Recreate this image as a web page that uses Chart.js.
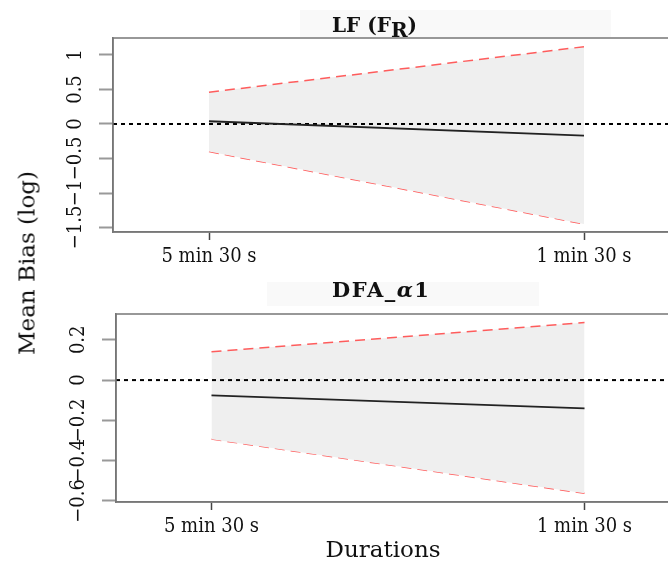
<!DOCTYPE html>
<html lang="en">
<head>
    <meta charset="UTF-8">
    <title>Mean Bias by Duration</title>
    <script src="https://cdn.jsdelivr.net/npm/chart.js"></script>
    <style>
        body {
            margin: 0;
            background: white;
            overflow: hidden;
        }
        .page {
            position: relative;
            width: 668px;
            height: 564px;
            overflow: hidden;
            font-family: "DejaVu Serif", serif;
            color: #111;
        }
        canvas {
            position: absolute;
            left: 0;
        }
        #topChart { top: 0; }
        #bottomChart { top: 276px; }
        .title {
            position: absolute;
            left: 332px;
            font-size: 20px;
            line-height: 20px;
            font-weight: bold;
            white-space: nowrap;
        }
        .title sub {
            font-size: 20px;
            vertical-align: -5px;
            line-height: 0;
        }
        .bg {
            position: absolute;
            background: #f9f9f9;
        }
        .axisTitle {
            position: absolute;
            font-size: 23px;
            line-height: 23px;
            white-space: nowrap;
        }
    </style>
</head>
<body>
    <div class="page">
        <div class="bg" style="left:300px; top:10px; width:311px; height:27px;"></div>
        <div class="bg" style="left:267px; top:282px; width:272px; height:24px;"></div>
        <canvas id="topChart" width="752" height="276"></canvas>
        <canvas id="bottomChart" width="752" height="288"></canvas>
        <div class="title" style="top:15px;">LF (F<sub>R</sub>)</div>
        <div class="title" style="top:280px; font-size:21px; letter-spacing:1.5px;">DFA_<i>α</i>1</div>
        <div class="axisTitle" style="left:27px; top:263px; transform: translate(-50%, -50%) rotate(-90deg);">Mean Bias (log)</div>
        <div class="axisTitle" style="left:383px; top:538px; transform: translateX(-50%);">Durations</div>
    </div>

    <script>
        // categories on the x axis
        const durations = ['5 min 30 s', '1 min 30 s'];
        const xPos = [1, 2];
        const xMin = 0.744;
        const xMax = 2.256;

        // LF (F_R) panel
        const lfUpper = [0.46, 1.12];
        const lfMean = [0.04, -0.17];
        const lfLower = [-0.40, -1.45];
        const lfTicks = [-1.5, -1, -0.5, 0, 0.5, 1];
        const lfRange = [-1.565, 1.246];

        // DFA_alpha1 panel
        const dfaUpper = [0.141, 0.286];
        const dfaMean = [-0.076, -0.140];
        const dfaLower = [-0.293, -0.562];
        const dfaTicks = [-0.6, -0.4, -0.2, 0, 0.2];
        const dfaRange = [-0.605, 0.328];

        Chart.defaults.font.family = '"DejaVu Serif Condensed", "DejaVu Serif", serif';
        Chart.defaults.font.size = 20;
        Chart.defaults.color = '#111';

        function toPoints(vals) {
            return vals.map((v, i) => ({ x: xPos[i], y: v }));
        }

        function fmt(v) {
            if (v < 0) return '\u2212' + Math.abs(v);
            return String(v);
        }

        // box round the plot area
        const boxPlugin = {
            id: 'box',
            afterDraw(chart) {
                const a = chart.chartArea;
                const c = chart.ctx;
                c.save();
                c.strokeStyle = '#777';
                c.lineWidth = 1.5;
                c.strokeRect(a.left, a.top, a.right - a.left, a.bottom - a.top);
                c.restore();
            }
        };

        function makeChart(id, upper, mean, lower, ticks, range, leftW, bottomH) {
            const ctx = document.getElementById(id).getContext('2d');
            return new Chart(ctx, {
                type: 'line',
                data: {
                    datasets: [
                        { data: toPoints(lower), borderColor: 'rgba(255,75,75,0.9)', borderWidth: 1.5,
                          borderDash: [10, 6], pointRadius: 0, fill: false, order: 3 },
                        { data: toPoints(upper), borderColor: 'rgba(255,75,75,0.9)', borderWidth: 1.5,
                          borderDash: [10, 6], pointRadius: 0, fill: '-1', backgroundColor: '#efefef', order: 2 },
                        { data: toPoints(mean), borderColor: '#222', borderWidth: 1.8, pointRadius: 0,
                          fill: false, order: 0 },
                        { data: [{ x: xMin, y: 0 }, { x: xMax, y: 0 }], borderColor: '#000', borderWidth: 2,
                          borderDash: [4, 4], pointRadius: 0, fill: false, order: 1 }
                    ]
                },
                options: {
                    responsive: false,
                    animation: false,
                    layout: { padding: { top: 38, right: 72, left: 0, bottom: 0 } },
                    plugins: { legend: { display: false }, tooltip: { enabled: false } },
                    scales: {
                        x: {
                            type: 'linear',
                            min: xMin,
                            max: xMax,
                            afterBuildTicks: s => { s.ticks = xPos.map(v => ({ value: v })); },
                            afterFit: s => { s.height = bottomH; },
                            ticks: {
                                callback: v => durations[xPos.indexOf(v)],
                                padding: 5,
                                maxRotation: 0
                            },
                            grid: { drawOnChartArea: false, tickLength: 8, tickColor: '#444', tickWidth: 1.5 },
                            border: { color: '#777', width: 1.5 }
                        },
                        y: {
                            min: range[0],
                            max: range[1],
                            afterBuildTicks: s => { s.ticks = ticks.map(v => ({ value: v })); },
                            afterFit: s => { s.width = leftW; },
                            ticks: {
                                callback: v => fmt(v),
                                minRotation: 90,
                                maxRotation: 90,
                                crossAlign: 'center',
                                autoSkip: false,
                                padding: 1
                            },
                            grid: { drawOnChartArea: false, tickLength: 14, tickColor: '#999', tickWidth: 2 },
                            border: { color: '#777', width: 1.5 }
                        }
                    }
                },
                plugins: [boxPlugin]
            });
        }

        makeChart('topChart', lfUpper, lfMean, lfLower, lfTicks, lfRange, 113, 44);
        makeChart('bottomChart', dfaUpper, dfaMean, dfaLower, dfaTicks, dfaRange, 116, 62);
    </script>
</body>
</html>
